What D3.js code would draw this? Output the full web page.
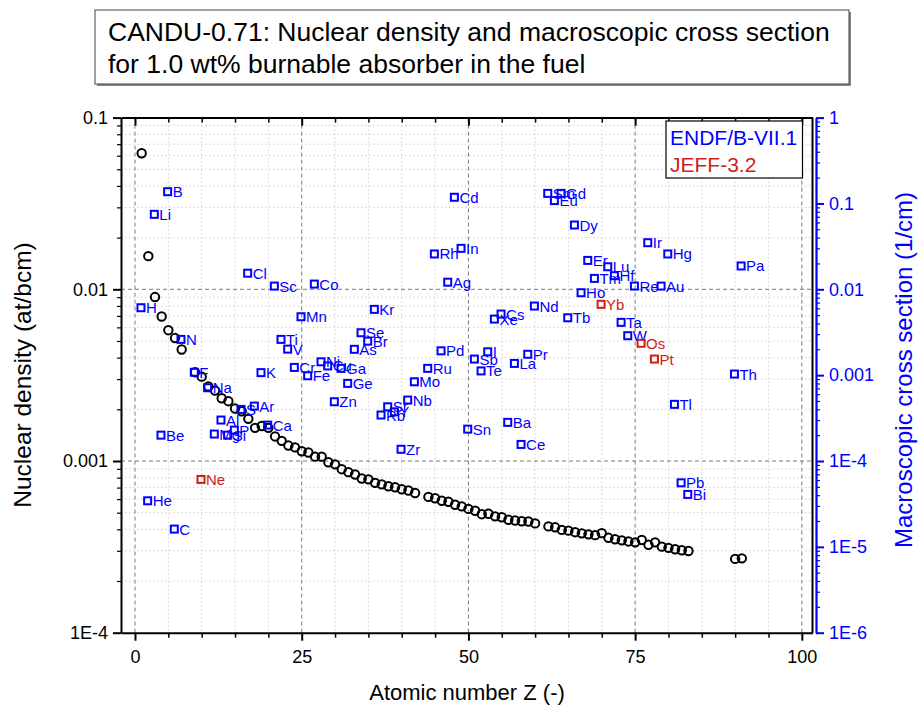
<!DOCTYPE html>
<html><head><meta charset="utf-8">
<script src="https://cdn.jsdelivr.net/npm/d3@7/dist/d3.min.js"></script>
<style>
body{margin:0;background:#fff}
svg text{font-family:Arial,"Liberation Sans",sans-serif}
</style>
</head><body>
<svg id="chart" width="924" height="717"></svg>
<script>
// ---------- DATA ----------
const titleLines = ["CANDU-0.71: Nuclear density and macroscopic cross section",
                    "for 1.0 wt% burnable absorber in the fuel"];
const xTickValues = [0, 25, 50, 75, 100];
const leftTickValues = [1e-4, 1e-3, 1e-2, 1e-1];
const leftTickLabels = ["1E-4", "0.001", "0.01", "0.1"];
const rightTickValues = [1e-6, 1e-5, 1e-4, 1e-3, 1e-2, 1e-1, 1];
const rightTickLabels = ["1E-6", "1E-5", "1E-4", "0.001", "0.01", "0.1", "1"];

// Nuclear density (at/bcm), black circles, left axis
const densityZ = [1,2,3,4,5,6,7,9,10,11,12,13,14,15,16,17,18,19,20,
  21,22,23,24,25,26,27,28,29,30,31,32,33,34,35,36,37,38,39,40,41,42,
  44,45,46,47,48,49,50,51,52,53,54,55,56,57,58,59,60,
  62,63,64,65,66,67,68,69,70,71,72,73,74,75,76,77,78,79,80,81,82,83,90,91];
const densityValues = [0.0620,0.0156,0.00901,0.00694,0.00578,0.00520,0.00446,0.00329,0.00310,0.00272,
  0.00257,0.00232,0.00223,0.00202,0.00195,0.00176,0.00156,0.00160,0.00156,
  0.00139,0.00131,0.00123,0.00120,0.00114,0.00112,0.00106,0.00106,0.000983,0.000956,
  0.000896,0.000861,0.000834,0.000791,0.000782,0.000746,0.000731,0.000713,0.000703,0.000685,0.000673,0.000651,
  0.000618,0.000607,0.000587,0.000579,0.000556,0.000544,0.000526,0.000513,0.000490,0.000493,0.000476,0.000470,
  0.000455,0.000450,0.000446,0.000444,0.000433,
  0.000416,0.000411,0.000397,0.000393,0.000385,0.000379,0.000374,0.000370,0.000380,0.000357,0.000350,
  0.000345,0.000340,0.000336,0.000347,0.000325,0.000336,0.000317,0.000312,0.000306,0.000302,0.000299,
  0.000269,0.000271];

// Macroscopic cross section (1/cm), squares, right axis
const sigmaNames = ["H","He","Li","Be","B","C","N","F","Ne","Na","Mg","Al","Si","P","S","Cl","Ar","K","Ca",
  "Sc","Ti","V","Cr","Mn","Fe","Co","Ni","Cu","Zn","Ga","Ge","As","Se","Br","Kr","Rb","Sr","Y","Zr","Nb","Mo",
  "Ru","Rh","Pd","Ag","Cd","In","Sn","Sb","Te","I","Xe","Cs","Ba","La","Ce","Pr","Nd",
  "Sm","Eu","Gd","Tb","Dy","Ho","Er","Tm","Yb","Lu","Hf","Ta","W","Re","Os","Ir","Pt","Au","Hg","Tl","Pb","Bi","Th","Pa"];
const sigmaZ = [1,2,3,4,5,6,7,9,10,11,12,13,14,15,16,17,18,19,20,
  21,22,23,24,25,26,27,28,29,30,31,32,33,34,35,36,37,38,39,40,41,42,
  44,45,46,47,48,49,50,51,52,53,54,55,56,57,58,59,60,
  62,63,64,65,66,67,68,69,70,71,72,73,74,75,76,77,78,79,80,81,82,83,90,91];
const sigmaValues = [0.0061,3.44e-5,0.0747,0.00020,0.137,1.61e-5,0.00261,0.00108,6.1e-5,0.000713,
  0.000206,0.00030,0.00020,0.000229,0.000399,0.0154,0.000436,0.00107,0.000262,
  0.0109,0.00261,0.00201,0.00123,0.00479,0.000984,0.0115,0.00143,0.00128,0.00049,
  0.00120,0.000802,0.00200,0.00312,0.00249,0.00584,0.000343,0.000428,0.000374,0.000137,0.000513,0.000837,
  0.00120,0.0258,0.00192,0.0121,0.118,0.0300,0.000235,0.00154,0.00112,0.00187,0.00450,0.00515,
  0.000282,0.00137,0.000156,0.00175,0.00638,
  0.131,0.108,0.131,0.00466,0.0561,0.00912,0.0217,0.0134,0.00668,0.0183,0.0144,
  0.00412,0.00288,0.0109,0.00235,0.0349,0.00154,0.0109,0.0258,0.000457,5.57e-5,4.08e-5,
  0.00103,0.0187];
const sigmaLibrary = ["ENDF","ENDF","ENDF","ENDF","ENDF","ENDF","ENDF","ENDF","JEFF","ENDF",
  "ENDF","ENDF","ENDF","ENDF","ENDF","ENDF","ENDF","ENDF","ENDF",
  "ENDF","ENDF","ENDF","ENDF","ENDF","ENDF","ENDF","ENDF","ENDF","ENDF",
  "ENDF","ENDF","ENDF","ENDF","ENDF","ENDF","ENDF","ENDF","ENDF","ENDF","ENDF","ENDF",
  "ENDF","ENDF","ENDF","ENDF","ENDF","ENDF","ENDF","ENDF","ENDF","ENDF","ENDF","ENDF",
  "ENDF","ENDF","ENDF","ENDF","ENDF",
  "ENDF","ENDF","ENDF","ENDF","ENDF","ENDF","ENDF","ENDF","JEFF","ENDF","ENDF",
  "ENDF","ENDF","ENDF","JEFF","ENDF","JEFF","ENDF","ENDF","ENDF","ENDF","ENDF",
  "ENDF","ENDF"];
const legendNames = ["ENDF/B-VII.1", "JEFF-3.2"];
const libraryKeys = ["ENDF", "JEFF"];

// ---------- STYLE / LAYOUT ----------
const BLUE = "#0000ff", RED = "#d01c1c";
const libColor = d3.scaleOrdinal().domain(libraryKeys).range([BLUE, RED]);
const plot = {left: 121, right: 812.5, top: 117.6, bottom: 632.7};

const svg = d3.select("#chart");
const x = d3.scaleLinear().domain([-2.1, 101.6]).range([plot.left, plot.right]);
const yL = d3.scaleLog().domain([1e-4, 0.1]).range([plot.bottom, plot.top]);
const yR = d3.scaleLog().domain([1e-6, 1]).range([plot.bottom, plot.top]);

// minor values
const leftMinor = [];
[1e-4,1e-3,1e-2].forEach(b => { for (let k=2;k<=9;k++) leftMinor.push(b*k); });
const rightMinor = [];
[1e-6,1e-5,1e-4,1e-3,1e-2,1e-1].forEach(b => { for (let k=2;k<=9;k++) rightMinor.push(b*k); });
const xMinor = d3.range(0, 101, 5).filter(v => v % 25 !== 0);

// ---------- GRID ----------
const grid = svg.append("g");
grid.selectAll(".vmin").data(xMinor).join("line")
  .attr("x1", d => x(d)).attr("x2", d => x(d)).attr("y1", plot.top).attr("y2", plot.bottom)
  .attr("stroke", "#cfcfcf").attr("stroke-width", 1).attr("stroke-dasharray", "1.5,2.5");
grid.selectAll(".hmin").data(leftMinor).join("line")
  .attr("x1", plot.left).attr("x2", plot.right).attr("y1", d => yL(d)).attr("y2", d => yL(d))
  .attr("stroke", "#cfcfcf").attr("stroke-width", 1).attr("stroke-dasharray", "1.5,2.5");
grid.selectAll(".vmaj").data(xTickValues).join("line")
  .attr("x1", d => x(d)).attr("x2", d => x(d)).attr("y1", plot.top).attr("y2", plot.bottom)
  .attr("stroke", "#7a7a7a").attr("stroke-width", 1).attr("stroke-dasharray", "4,3");
grid.selectAll(".hmaj").data([1e-3, 1e-2]).join("line")
  .attr("x1", plot.left).attr("x2", plot.right).attr("y1", d => yL(d)).attr("y2", d => yL(d))
  .attr("stroke", "#7a7a7a").attr("stroke-width", 1).attr("stroke-dasharray", "4,3");

// ---------- AXES ----------
function styleAxis(g, color, width) {
  g.select(".domain").attr("stroke", color).attr("stroke-width", width);
  g.selectAll(".tick line").attr("stroke", color).attr("stroke-width", 1.5);
  g.selectAll("text").attr("fill", color).style("font-family", "Arial, 'Liberation Sans', sans-serif");
}
// bottom
const gxb = svg.append("g").attr("transform", `translate(0,${plot.bottom})`)
  .call(d3.axisBottom(x).tickValues(xTickValues).tickSize(8).tickSizeOuter(0).tickPadding(10).tickFormat(d3.format("d")));
styleAxis(gxb, "#000", 2); gxb.selectAll("text").attr("font-size", 18);
gxb.selectAll(".tick line").attr("stroke-width", 2);
svg.append("g").attr("transform", `translate(0,${plot.bottom})`)
  .call(d3.axisBottom(x).tickValues(xMinor).tickSize(5).tickFormat(""))
  .call(g => { g.select(".domain").remove(); g.selectAll("line").attr("stroke","#000").attr("stroke-width",1.5); });
// top (inward ticks)
const gxt = svg.append("g").attr("transform", `translate(0,${plot.top})`)
  .call(d3.axisTop(x).tickValues(xTickValues).tickSize(-8).tickSizeOuter(0).tickFormat(""));
styleAxis(gxt, "#000", 2); gxt.selectAll(".tick line").attr("stroke-width", 2);
svg.append("g").attr("transform", `translate(0,${plot.top})`)
  .call(d3.axisTop(x).tickValues(xMinor).tickSize(-5).tickFormat(""))
  .call(g => { g.select(".domain").remove(); g.selectAll("line").attr("stroke","#000").attr("stroke-width",1.5); });
// left
const gyl = svg.append("g").attr("transform", `translate(${plot.left},0)`)
  .call(d3.axisLeft(yL).tickValues(leftTickValues).tickSize(8).tickSizeOuter(0).tickPadding(5)
        .tickFormat(d => leftTickLabels[leftTickValues.indexOf(d)]));
styleAxis(gyl, "#000", 2); gyl.selectAll("text").attr("font-size", 18);
gyl.selectAll(".tick line").attr("stroke-width", 2);
svg.append("g").attr("transform", `translate(${plot.left},0)`)
  .call(d3.axisLeft(yL).tickValues(leftMinor).tickSize(4).tickFormat(""))
  .call(g => { g.select(".domain").remove(); g.selectAll("line").attr("stroke","#000").attr("stroke-width",1.2); });
// right frame line (black)
svg.append("line").attr("x1", plot.right).attr("x2", plot.right).attr("y1", plot.top).attr("y2", plot.bottom)
  .attr("stroke", "#000").attr("stroke-width", 2);
// right blue axis
const rightX = plot.right + 3.5;
const gyr = svg.append("g").attr("transform", `translate(${rightX},0)`)
  .call(d3.axisRight(yR).tickValues(rightTickValues).tickSize(8).tickSizeOuter(0).tickPadding(5)
        .tickFormat(d => rightTickLabels[rightTickValues.indexOf(d)]));
styleAxis(gyr, BLUE, 2.2); gyr.selectAll("text").attr("font-size", 18);
gyr.selectAll(".tick line").attr("stroke-width", 2);
svg.append("g").attr("transform", `translate(${rightX},0)`)
  .call(d3.axisRight(yR).tickValues(rightMinor).tickSize(4).tickFormat(""))
  .call(g => { g.select(".domain").remove(); g.selectAll("line").attr("stroke",BLUE).attr("stroke-width",1.2); });

// ---------- MARKS ----------
const density = densityZ.map((z, i) => ({z, v: densityValues[i]}));
svg.append("g").selectAll("circle").data(density).join("circle")
  .attr("cx", d => x(d.z)).attr("cy", d => yL(d.v)).attr("r", 4.2)
  .attr("fill", "none").attr("stroke", "#000").attr("stroke-width", 2);

const sigma = sigmaZ.map((z, i) => ({z, v: sigmaValues[i], name: sigmaNames[i], lib: sigmaLibrary[i]}));
const sq = 7;
const pts = svg.append("g").selectAll("g").data(sigma).join("g")
  .attr("transform", d => `translate(${x(d.z) - 0.7},${yR(d.v)})`);
pts.append("rect").attr("x", -sq/2).attr("y", -sq/2).attr("width", sq).attr("height", sq)
  .attr("fill", "none").attr("stroke", d => libColor(d.lib)).attr("stroke-width", 2);
pts.append("text").attr("x", 5).attr("y", 5.5).attr("font-size", 15)
  .attr("fill", d => libColor(d.lib)).text(d => d.name);

// ---------- LEGEND ----------
const leg = svg.append("g");
leg.append("rect").attr("x", 666).attr("y", 121).attr("width", 136.5).attr("height", 57)
  .attr("fill", "#fff").attr("stroke", "#000").attr("stroke-width", 1.2);
leg.selectAll("text").data(legendNames).join("text")
  .attr("x", 670).attr("y", (d, i) => 145 + i * 27).attr("font-size", 21)
  .attr("fill", (d, i) => libColor(libraryKeys[i])).text(d => d);

// ---------- TITLES ----------
const tb = svg.append("g");
tb.append("rect").attr("x", 97).attr("y", 12).attr("width", 754).attr("height", 74).attr("fill", "#888");
tb.append("rect").attr("x", 95).attr("y", 10).attr("width", 754).attr("height", 74)
  .attr("fill", "#fff").attr("stroke", "#444").attr("stroke-width", 1);
tb.selectAll("text").data(titleLines).join("text")
  .attr("x", 108).attr("y", (d, i) => 41 + i * 32).attr("font-size", 26.5).attr("fill", "#000").text(d => d);

svg.append("text").attr("x", 467).attr("y", 700).attr("text-anchor", "middle")
  .attr("font-size", 22).attr("fill", "#000").text("Atomic number Z (-)");
svg.append("text").attr("transform", "translate(31,375) rotate(-90)").attr("text-anchor", "middle")
  .attr("font-size", 24.5).attr("fill", "#000").text("Nuclear density (at/bcm)");
svg.append("text").attr("transform", "translate(912,370) rotate(-90)").attr("text-anchor", "middle")
  .attr("font-size", 24).attr("fill", BLUE).text("Macroscopic cross section (1/cm)");
</script>
</body></html>
